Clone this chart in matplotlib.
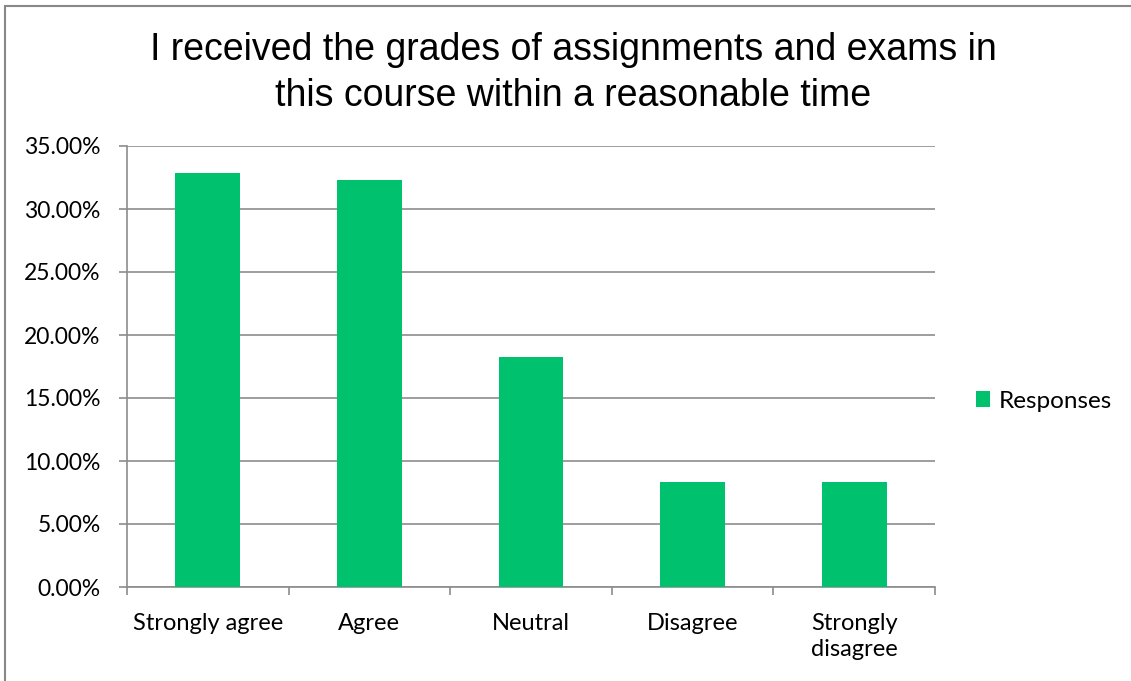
import matplotlib
matplotlib.use('Agg')
import matplotlib.pyplot as plt
from matplotlib.patches import Rectangle

categories = ['Strongly agree', 'Agree', 'Neutral', 'Disagree', 'Strongly\ndisagree']
responses = [32.86, 32.29, 18.25, 8.33, 8.33]
yticks = [0, 5, 10, 15, 20, 25, 30, 35]

W, H = 1131, 681
fig = plt.figure(figsize=(W / 100, H / 100), dpi=100)
ax = fig.add_axes([127 / W, 1 - 587 / H, (935 - 127) / W, (587 - 146) / H])

green = '#00C16E'
grid = '#8C8C8C'
label_font = 'Lato'

x = list(range(len(categories)))
ax.bar(x, responses, width=0.4, color=green, label='Responses', zorder=3)

ax.set_xlim(-0.5, len(categories) - 0.5)
ax.set_ylim(0, 35)
ax.set_yticks(yticks)
ax.set_yticklabels([f'{v:.2f}%' for v in yticks], fontsize=16.5, family=label_font)
ax.yaxis.grid(True, color=grid, linewidth=1.2, zorder=0)

ax.set_xticks([i - 0.5 for i in range(len(categories) + 1)])
ax.set_xticklabels([])
ax.set_xticks(x, minor=True)
ax.set_xticklabels(categories, minor=True, fontsize=17, family=label_font, linespacing=1.3)
ax.tick_params(axis='x', which='minor', length=0, pad=19)
ax.tick_params(axis='x', which='major', length=6, color=grid, width=1.2)
ax.tick_params(axis='y', length=6, color=grid, width=1.2, pad=13)

for side in ['top', 'right']:
    ax.spines[side].set_visible(False)
for side in ['left', 'bottom']:
    ax.spines[side].set_color(grid)
    ax.spines[side].set_linewidth(1.2)

fig.text(573 / W, 1 - 73 / H,
         'I received the grades of assignments and exams in\nthis course within a reasonable time',
         ha='center', va='center', fontsize=27, family='Liberation Sans', linespacing=1.33)

ax.legend(loc='center left', bbox_to_anchor=(954 / W, 1 - 401 / H), bbox_transform=fig.transFigure,
          frameon=False, prop={'family': label_font, 'size': 17.5}, handlelength=0.6, handleheight=0.6,
          handletextpad=0.35)

fig.patches.append(Rectangle((5 / W, -0.1), 1.2, 1 - 6 / H + 0.1, transform=fig.transFigure,
                             fill=False, edgecolor='#888888', linewidth=1.5))

fig.savefig('out.png', dpi=100)
plt.close()
